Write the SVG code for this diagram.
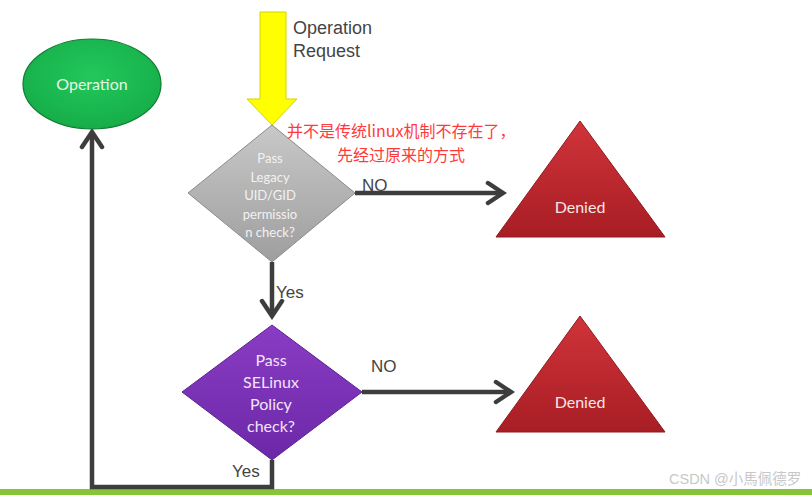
<svg xmlns="http://www.w3.org/2000/svg" width="812" height="495" viewBox="0 0 812 495">
<style>
.lbl{font-family:"Liberation Sans",Arial,sans-serif;font-size:17px;fill:#444}
.big{font-size:18px}
.node{font-family:Lato,"Open Sans",sans-serif;text-anchor:middle}
.conn{stroke:#3d3d3d;stroke-width:4.5;fill:none}
.note{font-family:"Noto Sans CJK SC",sans-serif;font-size:16px;fill:#ff3a3a}
</style>
<defs>
<marker id="chev" markerUnits="userSpaceOnUse" viewBox="-20 -13 24 26" refX="0" refY="0" markerWidth="24" markerHeight="26" orient="auto">
<path d="M-15,-10 L0,0 L-15,10" fill="none" stroke="#3d3d3d" stroke-width="4.5" stroke-linecap="round"/>
</marker>
<linearGradient id="gGray" x1="0" y1="0" x2="0" y2="1"><stop offset="0" stop-color="#c8c8c8"/><stop offset="1" stop-color="#9e9e9e"/></linearGradient>
<linearGradient id="gPurple" x1="0" y1="0" x2="0" y2="1"><stop offset="0" stop-color="#8a3cc4"/><stop offset="1" stop-color="#6c28a8"/></linearGradient>
<linearGradient id="gRed" x1="0" y1="0" x2="0" y2="1"><stop offset="0" stop-color="#d0343a"/><stop offset="1" stop-color="#a81d24"/></linearGradient>
<radialGradient id="gGreen" cx="0.5" cy="0.4" r="0.6"><stop offset="0" stop-color="#22c85c"/><stop offset="1" stop-color="#16ad48"/></radialGradient>
</defs>
<rect width="812" height="495" fill="#fff"/>
<rect x="0" y="489" width="812" height="6" fill="#86c535"/>

<g id="connectors">
<path class="conn" d="M355,193 H503" marker-end="url(#chev)"/>
<path class="conn" d="M272,262 V316" marker-end="url(#chev)"/>
<path class="conn" d="M362,392 H511" marker-end="url(#chev)"/>
<path class="conn" d="M272,460 V487 H92 V132" marker-end="url(#chev)"/>
<text class="lbl" x="362" y="191">NO</text>
<text class="lbl" x="276" y="298">Yes</text>
<text class="lbl" x="371" y="372">NO</text>
<text class="lbl" x="232" y="477">Yes</text>
</g>

<g id="request">
<path d="M260,12 H286 V99 H297 L272,125 L247,99 H260 Z" fill="#ffff00" stroke="#d4d400" stroke-width="1"/>
<text class="lbl big" x="293" y="34">Operation</text>
<text class="lbl big" x="293" y="57">Request</text>
</g>

<g id="operation">
<ellipse cx="92" cy="84" rx="69" ry="45" fill="url(#gGreen)" stroke="#0f7a32" stroke-width="1.2"/>
<text class="node" x="92" y="90" font-size="16" fill="#e6f7e6">Operation</text>
</g>

<g id="legacy-check">
<polygon points="272,125 355,193 272,262 188,193" fill="url(#gGray)" stroke="#8a8a8a" stroke-width="1"/>
<g class="node" font-size="13" fill="#f2f2f2">
<text x="270" y="163">Pass</text>
<text x="270" y="182">Legacy</text>
<text x="270" y="200">UID/GID</text>
<text x="270" y="219">permissio</text>
<text x="270" y="237">n check?</text>
</g>
</g>

<g id="note">
<text class="note" x="287" y="137">并不是传统linux机制不存在了，</text>
<text class="note" x="337" y="161">先经过原来的方式</text>
</g>

<g id="denied1">
<polygon points="580,121 665,237 496,237" fill="url(#gRed)" stroke="#8e1a1f" stroke-width="1"/>
<text class="node" x="580" y="213" font-size="16" fill="#f6e6e6">Denied</text>
</g>

<g id="selinux-check">
<polygon points="272,325 362,392 272,460 182,392" fill="url(#gPurple)" stroke="#5c2290" stroke-width="1"/>
<g class="node" font-size="16" fill="#f1e4fa">
<text x="271" y="366">Pass</text>
<text x="271" y="388">SELinux</text>
<text x="271" y="410">Policy</text>
<text x="271" y="432">check?</text>
</g>
</g>

<g id="denied2">
<polygon points="580,316 665,432 496,432" fill="url(#gRed)" stroke="#8e1a1f" stroke-width="1"/>
<text class="node" x="580" y="408" font-size="16" fill="#f6e6e6">Denied</text>
</g>

<text x="669" y="484" font-family="'Liberation Sans','Noto Sans CJK SC',sans-serif" font-size="14.5" fill="#c8c8c8">CSDN @小馬佩德罗</text>
</svg>
